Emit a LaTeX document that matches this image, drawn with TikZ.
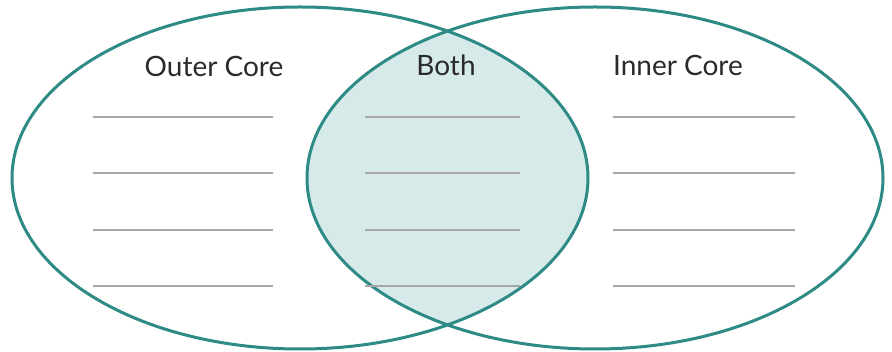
\documentclass[tikz,border=0pt]{standalone}
\usepackage{fontspec}
\setmainfont{Lato}
\definecolor{teal1}{HTML}{2E8A84}
\definecolor{fillc}{HTML}{D6EAEA}
\definecolor{linec}{HTML}{A6A6A6}
\definecolor{textc}{HTML}{2A2A2A}
\tikzset{
  ring/.style={draw=teal1, line width=3pt},
  blank/.style={draw=linec, line width=2.4pt},
  lbl/.style={text=textc, font=\fontsize{28}{32}\selectfont, anchor=base, inner sep=0pt}
}
\begin{document}
\begin{tikzpicture}[x=1pt,y=-1pt]
\useasboundingbox (0,0) rectangle (892,352);
\begin{scope}
  \clip (300,178) ellipse [x radius=288pt, y radius=171pt];
  \fill[fillc] (595,178) ellipse [x radius=288pt, y radius=171pt];
\end{scope}
\draw[ring] (300,178) ellipse [x radius=288pt, y radius=171pt];
\draw[ring] (595,178) ellipse [x radius=288pt, y radius=171pt];
\node[lbl] (outer) at (214,77) {Outer Core};
\node[lbl] (both) at (446,76) {Both};
\node[lbl] (inner) at (678,76) {Inner Core};
\foreach \y in {117,173,230,286} {
  \draw[blank] (93,\y) -- (273,\y);
  \draw[blank] (365,\y) -- (520,\y);
  \draw[blank] (613,\y) -- (795,\y);
}
\end{tikzpicture}
\end{document}
